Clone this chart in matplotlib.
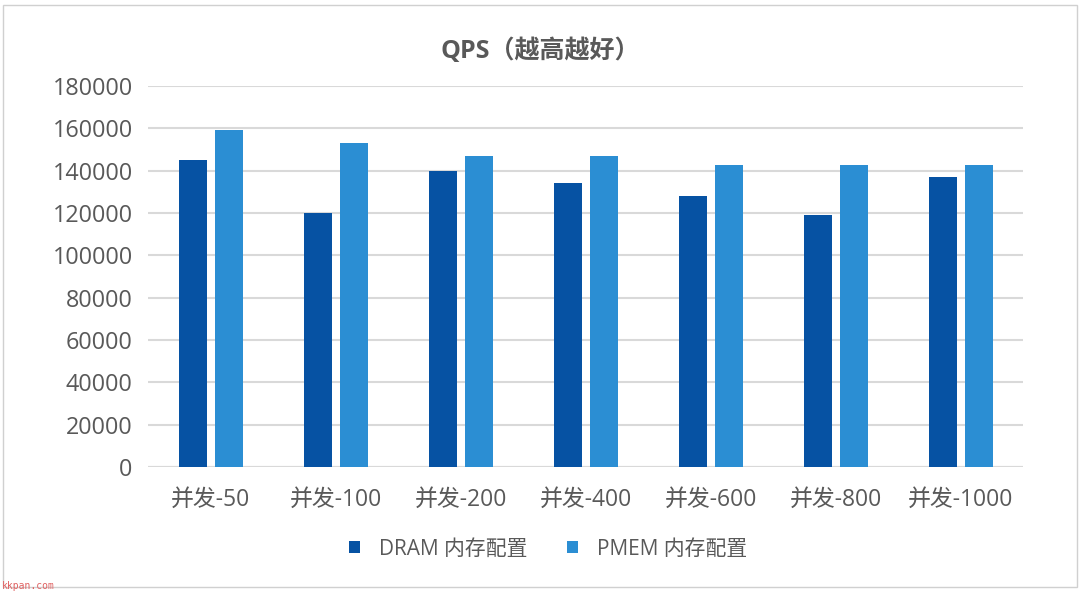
import matplotlib
matplotlib.use("Agg")
import matplotlib.pyplot as plt
import numpy as np
from matplotlib.patches import Rectangle

plt.rcParams['font.family'] = ['Open Sans', 'Noto Sans CJK SC', 'DejaVu Sans']

categories = ["并发-50", "并发-100", "并发-200", "并发-400", "并发-600", "并发-800", "并发-1000"]
dram = [145000, 120000, 140000, 134000, 128000, 119000, 137000]
pmem = [159000, 153000, 147000, 147000, 142500, 142500, 142500]
series_names = ["DRAM 内存配置", "PMEM 内存配置"]
yticks = [0, 20000, 40000, 60000, 80000, 100000, 120000, 140000, 160000, 180000]

c_dram = "#0652a3"
c_pmem = "#2b8ed3"
txt = "#595959"

fig = plt.figure(figsize=(10.8, 5.92), dpi=100)
ax = fig.add_axes([148/1080, 1-467/592, (1023-148)/1080, (467-86)/592])

x = np.arange(len(categories))
w = 0.224
off = 0.144
ax.bar(x - off, dram, width=w, color=c_dram, label=series_names[0], zorder=3)
ax.bar(x + off, pmem, width=w, color=c_pmem, label=series_names[1], zorder=3)

ax.set_xlim(-0.5, len(categories) - 0.5)
ax.set_ylim(0, 180000)
ax.set_yticks(yticks)
ax.set_yticklabels([str(v) for v in yticks], fontsize=16.8, color=txt)
ax.set_xticks(x)
ax.set_xticklabels(categories, fontsize=16.5, color=txt)
ax.tick_params(axis='both', length=0)
ax.tick_params(axis='y', pad=11)
ax.tick_params(axis='x', pad=15)
ax.grid(axis='y', color="#d9d9d9", linewidth=1.5, zorder=0)
for s in ax.spines.values():
    s.set_visible(False)
ax.axhline(0, color="#d9d9d9", linewidth=1.5, zorder=2)

fig.text(0.5, 1-51/592, "QPS（越高越好）", ha='center', va='center',
         fontsize=18, fontweight='bold', color=txt)

leg = fig.legend(loc='center', bbox_to_anchor=(548/1080, 1-549/592), ncol=2, frameon=False,
                 fontsize=15, handlelength=0.55, handleheight=0.55, columnspacing=1.9,
                 handletextpad=0.9)
for t in leg.get_texts():
    t.set_color(txt)

fig.patches.append(Rectangle((3/1080, 5/592), 1074/1080, 582/592, transform=fig.transFigure,
                             fill=False, edgecolor="#d0d0d0", linewidth=1))
fig.text(2/1080, 1-586/592, "kkpan.com", fontsize=7, color="#e06060",
         family=['DejaVu Sans Mono', 'DejaVu Sans'], va='center', ha='left')

fig.savefig("out.png", dpi=100, facecolor="white")
